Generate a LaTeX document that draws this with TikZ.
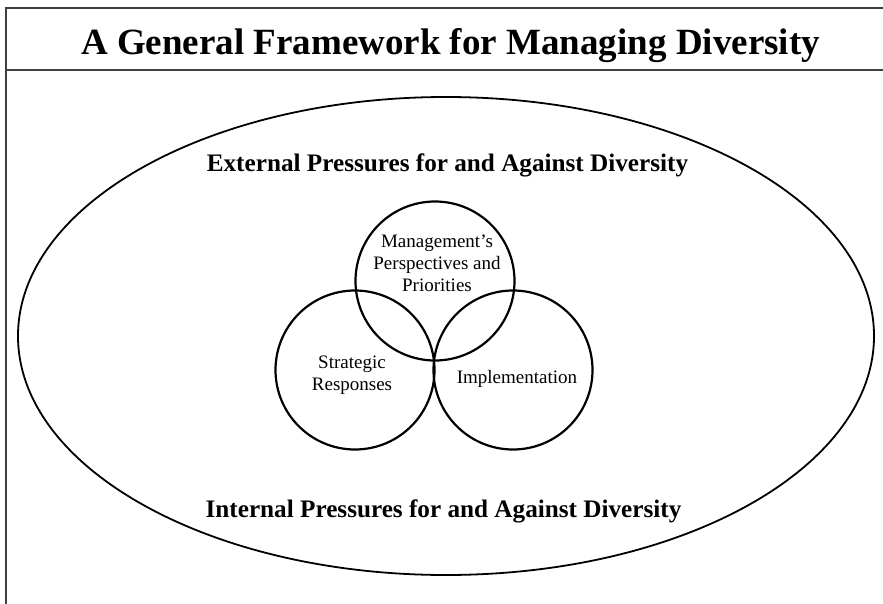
\documentclass[tikz,border=0pt]{standalone}
\usepackage{fontspec}
\setmainfont{Liberation Serif}
\usepackage{tikz}
\usetikzlibrary{shapes, positioning, calc}

\begin{document}
\begin{tikzpicture}[
        x=1pt, y=-1pt,
        frame/.style={draw=black!75, line width=2pt},
        title/.style={anchor=base, inner sep=0pt, font=\fontsize{37}{40}\selectfont\bfseries},
        pressure/.style={anchor=base, inner sep=0pt, font=\fontsize{25.2}{28}\selectfont\bfseries},
        area/.style={circle, draw, line width=2.2pt, minimum size=159pt, inner sep=0pt},
        areatext/.style={inner sep=0pt, align=center, font=\fontsize{19}{22}\selectfont}
    ]
        \useasboundingbox (0,0) rectangle (883,604);

        % Frame and title
        \draw[frame] (883,8) -- (6,8) -- (6,604);
        \draw[frame] (6,70) -- (883,70);
        \node[title] (heading) at (450.5,55) {A General Framework for Managing Diversity};

        % Environment
        \node[ellipse, draw, line width=1.8pt, minimum width=856pt, minimum height=478pt] (env) at (446,336) {};
        \node[pressure] (external) at (447.5,172) {External Pressures for and Against Diversity};
        \node[pressure] (internal) at (443.5,517) {Internal Pressures for and Against Diversity};

        % Circles
        \node[area] (mgmt) at (435,281) {};
        \node[area] (strat) at (355,370) {};
        \node[area] (impl) at (513,370) {};

        % Circle texts
        \node[areatext] (mgmttext) at (437,263) {Management's\\Perspectives and\\Priorities};
        \node[areatext] (strattext) at (352,375) {Strategic\\Responses};
        \node[areatext, anchor=base] (impltext) at (517,383) {Implementation};
    \end{tikzpicture}
\end{document}
